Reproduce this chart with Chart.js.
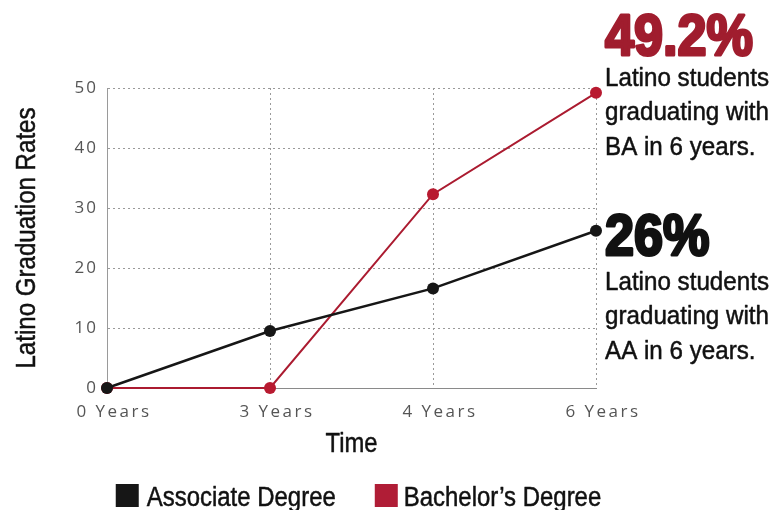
<!DOCTYPE html>
<html>
<head>
<meta charset="utf-8">
<script src="https://cdn.jsdelivr.net/npm/chart.js@4.4.1/dist/chart.umd.min.js"></script>
<style>
  html, body { margin: 0; padding: 0; background: #fff; }
</style>
</head>
<body>
<canvas id="gradChart" width="778" height="510"></canvas>
<script>
const years = ["0 Years", "3 Years", "4 Years", "6 Years"];
const associateRates = [0, 9.5, 16.6, 26.2];
const bachelorRates = [0, 0, 32.3, 49.2];
const yTicks = [0, 10, 20, 30, 40, 50];
const seriesNames = ["Associate Degree", "Bachelor\u2019s Degree"];

const RED = "#ab1b30";
const BLACK = "#161616";
const SANS = "'Liberation Sans', Arial, sans-serif";

// condensed look: Liberation Sans squeezed horizontally
function narrowText(ctx, txt, x, y, o) {
  const font = (o.bold ? "bold " : "") + o.size + "px " + SANS;
  ctx.save();
  ctx.translate(x, y);
  if (o.rotate) ctx.rotate(o.rotate);
  ctx.scale(o.sx || 0.85, 1);
  ctx.font = font;
  ctx.fillStyle = o.color || "#111";
  ctx.textAlign = o.align || "left";
  ctx.textBaseline = "alphabetic";
  ctx.fillText(txt, 0, 0);
  if (o.stroke) {
    ctx.strokeStyle = o.color || "#111";
    ctx.lineWidth = o.stroke;
    ctx.lineJoin = "round";
    ctx.strokeText(txt, 0, 0);
  }
  ctx.restore();
}

function narrowWidth(ctx, txt, size, sx) {
  ctx.save();
  ctx.font = size + "px " + SANS;
  const w = ctx.measureText(txt).width * sx;
  ctx.restore();
  return w;
}

// axis titles, legend and the callouts next to the last points
const textPlugin = {
  id: "narrowTexts",
  afterDraw(chart) {
    const ctx = chart.ctx;
    const area = chart.chartArea;
    const midX = (area.left + area.right) / 2;

    narrowText(ctx, "Latino Graduation Rates", 35, (area.top + area.bottom) / 2,
      { size: 28, sx: 0.86, align: "center", rotate: -Math.PI / 2, stroke: 0.5 });
    narrowText(ctx, "Time", midX, area.bottom + 64, { size: 28, sx: 0.85, align: "center", stroke: 0.5 });

    // legend
    const lsize = 27, lsx = 0.887;
    const w0 = narrowWidth(ctx, seriesNames[0], lsize, lsx);
    const w1 = narrowWidth(ctx, seriesNames[1], lsize, lsx);
    const total = 23 + 8 + w0 + 39 + 23 + 6 + w1;
    let lx = midX + 7 - total / 2;
    const ly = area.bottom + 96;
    [[BLACK, seriesNames[0], 8, w0], ["#b01d36", seriesNames[1], 6, w1]].forEach(([c, name, gap, w]) => {
      ctx.fillStyle = c;
      ctx.fillRect(lx, ly, 23, 23);
      narrowText(ctx, name, lx + 23 + gap, ly + 22, { size: lsize, sx: lsx, stroke: 0.5 });
      lx += 23 + gap + w + 39;
    });

    // callouts
    const ba = chart.getDatasetMeta(1).data[3];
    const aa = chart.getDatasetMeta(0).data[3];
    const tx = ba.x + 9;
    narrowText(ctx, "49.2%", tx, ba.y - 38, { size: 58, bold: true, sx: 0.9, color: "#a01d2e", stroke: 3 });
    ["Latino students", "graduating with", "BA in 6 years."].forEach((t, i) =>
      narrowText(ctx, t, tx, ba.y - 7 + i * 34.5, { size: 26, sx: 0.93, stroke: 0.5 }));
    narrowText(ctx, "26%", tx, aa.y + 24, { size: 58, bold: true, sx: 0.9, color: "#111", stroke: 3 });
    ["Latino students", "graduating with", "AA in 6 years."].forEach((t, i) =>
      narrowText(ctx, t, tx, aa.y + 59 + i * 34.5, { size: 26, sx: 0.93, stroke: 0.5 }));
  }
};

// spaced-out tick labels like the original
const spacingPlugin = {
  id: "tickSpacing",
  afterLayout(chart) {
    [["x", "2.5px"], ["y", "2px"]].forEach(([id, sp]) => {
      const sc = chart.scales[id];
      if (sc._spaced) return;
      const orig = sc.drawLabels.bind(sc);
      sc.drawLabels = function (area) {
        const c = this.ctx;
        c.save();
        c.letterSpacing = sp;
        orig(area);
        c.restore();
      };
      sc._spaced = true;
    });
  }
};

const ctx = document.getElementById("gradChart").getContext("2d");
new Chart(ctx, {
  type: "line",
  data: {
    labels: years,
    datasets: [
      {
        label: seriesNames[0],
        data: associateRates,
        borderColor: BLACK,
        backgroundColor: BLACK,
        borderWidth: 2.5,
        pointRadius: 6,
        pointBorderWidth: 0,
        pointBackgroundColor: BLACK,
        tension: 0,
        clip: false
      },
      {
        label: seriesNames[1],
        data: bachelorRates,
        borderColor: RED,
        backgroundColor: RED,
        borderWidth: 2,
        pointRadius: 6,
        pointBorderWidth: 0,
        pointBackgroundColor: "#b81a30",
        tension: 0,
        clip: false
      }
    ]
  },
  options: {
    responsive: false,
    animation: false,
    layout: { padding: { top: 88, right: 182, left: 0, bottom: 0 } },
    plugins: {
      tooltip: { enabled: false },
      legend: { display: false }
    },
    scales: {
      x: {
        type: "category",
        offset: false,
        grid: { color: "#9a9a9a", lineWidth: 1, drawTicks: false },
        border: { display: true, color: "#8a8a8a", dash: [2, 3], width: 1 },
        ticks: {
          color: "#555",
          padding: 14,
          labelOffset: 7,
          maxRotation: 0,
          font: { family: "'Open Sans', sans-serif", size: 17 }
        },
        afterFit(scale) { scale.height = 122; }
      },
      y: {
        min: 0,
        max: 50,
        afterBuildTicks(scale) { scale.ticks = yTicks.map(v => ({ value: v })); },
        grid: { color: "#9a9a9a", lineWidth: 1, drawTicks: false },
        border: { display: true, color: "#9a9a9a", dash: [2, 3] },
        ticks: {
          color: "#555",
          padding: 9,
          font: { family: "'Open Sans', sans-serif", size: 17 }
        },
        afterFit(scale) { scale.width = 107; }
      }
    }
  },
  plugins: [textPlugin, spacingPlugin]
});
</script>
</body>
</html>
